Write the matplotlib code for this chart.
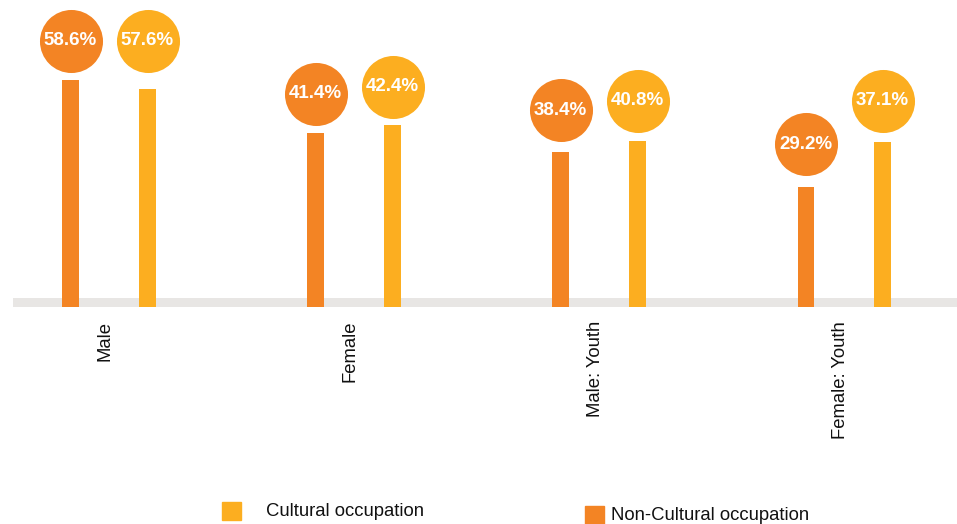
#!/usr/bin/env python3
"""Lollipop-style bars: cultural vs non-cultural occupation by sex / youth."""
import matplotlib
matplotlib.use("Agg")
import matplotlib.pyplot as plt
from matplotlib.patches import Rectangle

plt.rcParams["font.family"] = ["Liberation Sans", "DejaVu Sans"]

# data
categories = ["Male", "Female", "Male: Youth", "Female: Youth"]
noncult_label = [58.6, 41.4, 38.4, 29.2]
cult_label = [57.6, 42.4, 40.8, 37.1]
# bar lengths and bubble heights as drawn in the picture
# (the source chart does not scale them strictly by the labels)
noncult_bar = [56.8, 43.5, 38.8, 30.1]
cult_bar = [54.5, 45.5, 41.6, 41.3]
noncult_bubble = [66.6, 53.3, 49.2, 40.7]
cult_bubble = [66.6, 55.1, 51.6, 51.6]

NC_COL = "#F38424"
C_COL = "#FCAE20"
BAND_COL = "#E8E6E4"

W, H = 957, 524
fig = plt.figure(figsize=(W / 100, H / 100), dpi=100)
ax = fig.add_axes([13 / W, (H - 307) / H, 944 / W, 307 / H])

ax.set_ylim(0, 307 / 4)
ax.set_xlim(-0.392, 3.461)

off = 0.157
bw = 0.066
xs = range(len(categories))
x_nc = [i - off for i in xs]
x_c = [i + off for i in xs]

ax.axhspan(0, 2.3, color=BAND_COL, zorder=0, lw=0)
ax.bar(x_nc, noncult_bar, width=bw, color=NC_COL, zorder=2)
ax.bar(x_c, cult_bar, width=bw, color=C_COL, zorder=2)

for xpos, cy, labels, col in [(x_nc, noncult_bubble, noncult_label, NC_COL),
                              (x_c, cult_bubble, cult_label, C_COL)]:
    ax.scatter(xpos, cy, s=2060, color=col, zorder=3, clip_on=False, lw=0)
    for x, y, v in zip(xpos, cy, labels):
        ax.text(x, y, f"{v:.1f}%", ha="center", va="center", color="white",
                fontsize=13.5, fontweight="bold", zorder=4)

ax.set_xticks([i - 0.016 for i in xs])
ax.set_xticklabels(categories, rotation=90, fontsize=13.3, color="#111111",
                   va="top", ha="center")
ax.tick_params(axis="x", length=0, pad=10)
ax.set_yticks([])
for s in ax.spines.values():
    s.set_visible(False)

# legend
fig.add_artist(Rectangle((222 / W, 4 / H), 19 / W, 18 / H, color=C_COL,
                         transform=fig.transFigure))
fig.text(266 / W, 13 / H, "Cultural occupation", fontsize=13.3,
         va="center", ha="left", color="#111111")
fig.add_artist(Rectangle((585 / W, 0), 19 / W, 18 / H, color=NC_COL,
                         transform=fig.transFigure))
fig.text(611 / W, 9 / H, "Non-Cultural occupation", fontsize=13.3,
         va="center", ha="left", color="#111111")

fig.savefig("out.png", dpi=100)
